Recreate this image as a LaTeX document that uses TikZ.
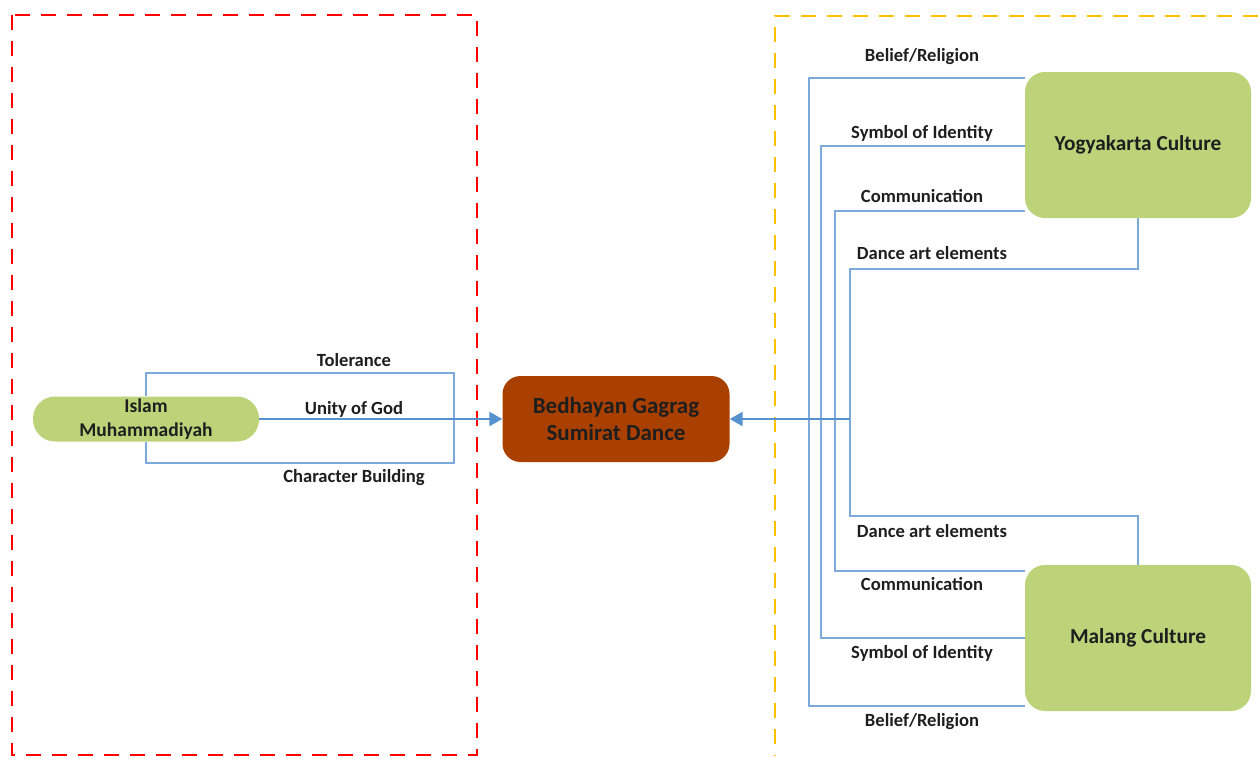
\documentclass[tikz,border=0pt]{standalone}
\usepackage{fontspec}
\setmainfont{Carlito}
\usetikzlibrary{arrows.meta,backgrounds}
\definecolor{leafgreen}{RGB}{189,211,122}
\definecolor{rust}{RGB}{170,64,0}
\definecolor{linkblue}{RGB}{125,170,218}
\definecolor{arrowblue}{RGB}{86,146,207}
\definecolor{boxred}{RGB}{255,0,0}
\definecolor{boxamber}{RGB}{255,192,0}
\definecolor{ink}{RGB}{30,30,30}
\tikzset{
  link/.style={draw=linkblue, line width=1.6pt},
  flow/.style={draw=arrowblue, line width=2.6pt, -{Triangle[length=13pt,width=14pt]}},
  culture/.style={fill=leafgreen, rounded corners=20pt, minimum width=226pt, minimum height=146pt, inner sep=0pt, font=\fontsize{21.3}{25}\selectfont\bfseries, text=ink},
  dance/.style={fill=rust, rounded corners=18pt, minimum width=227pt, minimum height=86pt, inner sep=0pt, align=center, font=\fontsize{23}{27}\selectfont\bfseries, text=ink},
  pill/.style={fill=leafgreen, rounded corners=22pt, minimum width=226pt, minimum height=45pt, inner sep=0pt, align=center, font=\fontsize{19.5}{24.5}\selectfont\bfseries, text=ink},
  tag/.style={font=\fontsize{18.6}{22}\selectfont\bfseries, text=ink, inner sep=0pt},
  groupbox/.style={line width=2.6pt, dash pattern=on 15pt off 11pt},
}
\begin{document}
\begin{tikzpicture}[x=1pt,y=-1pt]
\useasboundingbox (0,0) rectangle (1258,756);

% group frames
\draw[groupbox, draw=boxred] (12,15) rectangle (477,755);
\draw[groupbox, draw=boxamber] (1258,16) -- (775,16) -- (775,756);

% main nodes
\node[pill] (islam) at (146,419) {Islam\\Muhammadiyah};
\node[dance] (bed) at (616,419) {Bedhayan Gagrag\\Sumirat Dance};
\node[culture] (yog) at (1138,145) {Yogyakarta Culture};
\node[culture] (mal) at (1138,638) {Malang Culture};

% helper levels and trunk points
\coordinate (ltop) at (454,373);
\coordinate (lbot) at (454,463);
\coordinate (v1) at (809,419);
\coordinate (v2) at (821,419);
\coordinate (v3) at (835,419);
\coordinate (v4) at (850,419);
\coordinate (ya) at (0,78);
\coordinate (yb) at (0,146);
\coordinate (yc) at (0,211);
\coordinate (yd) at (0,269);
\coordinate (md) at (0,516);
\coordinate (mc) at (0,571);
\coordinate (mb) at (0,638);
\coordinate (ma) at (0,706);

\begin{scope}[on background layer]
  % left value loop
  \draw[link] (islam.north) |- (ltop) -- (lbot) -| (islam.south);
  % right value links
  \draw[link] (yog.west |- ya) -| (v1) |- (mal.west |- ma);
  \draw[link] (yog.west |- yb) -| (v2) |- (mal.west |- mb);
  \draw[link] (yog.west |- yc) -| (v3) |- (mal.west |- mc);
  \draw[link] (yog.south) |- (v4 |- yd) -- (v4) |- (mal.north |- md) -- (mal.north);
\end{scope}

% flows into the dance
\draw[flow] (islam.east) -- (bed.west);
\draw[flow] (v4) -- (bed.east);

% value labels
\node[tag] (lt) at (354,360) {Tolerance};
\node[tag] (lu) at (354,409) {Unity of God};
\node[tag] (lc) at (354,478) {Character Building};
\node[tag] (ya1) at (922,57) {Belief/Religion};
\node[tag] (yb1) at (922,133) {Symbol of Identity};
\node[tag] (yc1) at (922,196) {Communication};
\node[tag] (yd1) at (932,253) {Dance art elements};
\node[tag] (md1) at (932,531) {Dance art elements};
\node[tag] (mc1) at (922,584) {Communication};
\node[tag] (mb1) at (922,653) {Symbol of Identity};
\node[tag] (ma1) at (922,722) {Belief/Religion};
\end{tikzpicture}
\end{document}
